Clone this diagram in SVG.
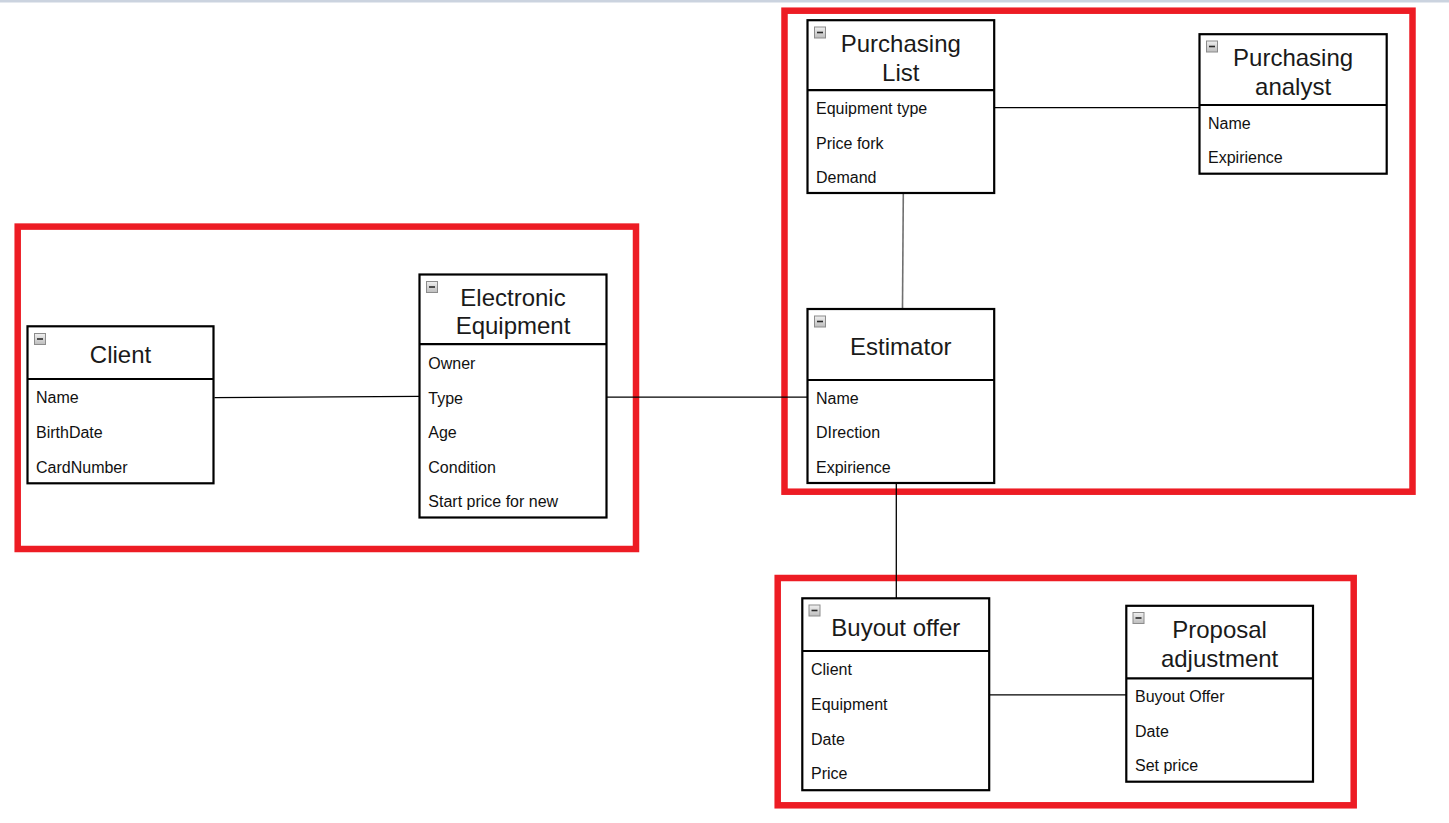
<svg xmlns="http://www.w3.org/2000/svg" width="1449" height="823" viewBox="0 0 1449 823">
<defs>
<linearGradient id="ig" x1="0" y1="0" x2="0" y2="1"><stop offset="0" stop-color="#f0f0f0"/><stop offset="1" stop-color="#bdbdbd"/></linearGradient>
<g id="icon"><rect x="0.5" y="0.5" width="11" height="11" fill="url(#ig)" stroke="#8c8c8c" stroke-width="1"/><line x1="3" y1="6" x2="9" y2="6" stroke="#2a2a2a" stroke-width="1.6"/></g>
</defs>
<style>
.frame{fill:none;stroke:#ed1c24;stroke-width:6.5}
.box{fill:#fff;stroke:#000;stroke-width:2.2}
.sep{stroke:#000;stroke-width:2.2}
.t{font-family:"Liberation Sans",Arial,sans-serif;font-size:24px;fill:#1a1a1a;text-anchor:middle}
.a{font-family:"Liberation Sans",Arial,sans-serif;font-size:16px;fill:#111}
.c{stroke:#000;stroke-width:1.3;fill:none}
</style>
<rect x="0" y="0" width="1449" height="823" fill="#fff"/>
<rect x="0" y="0" width="1449" height="2.5" fill="#cbd3df"/>
<g id="frames">
<rect class="frame" x="17.7" y="226.6" width="618.3" height="322.4"/>
<rect class="frame" x="784.5" y="10.7" width="628" height="481"/>
<rect class="frame" x="777.7" y="578" width="576" height="227.3"/>
</g>
<g id="connectors">
<line class="c" x1="214.5" y1="397.7" x2="419" y2="396.4"/>
<line class="c" x1="607" y1="397.2" x2="807" y2="397.2"/>
<line class="c" x1="995" y1="107.7" x2="1199" y2="107.7"/>
<line x1="903.3" y1="194" x2="902.5" y2="308" stroke="#707070" stroke-width="1.6"/>
<line class="c" x1="896.3" y1="484" x2="896.3" y2="598"/>
<line class="c" x1="989.5" y1="694.8" x2="1126" y2="694.8"/>
</g>
<g id="client">
<rect class="box" x="27.5" y="326.3" width="186" height="157"/>
<line class="sep" x1="27.5" y1="379" x2="213.5" y2="379"/>
<use href="#icon" x="34" y="333"/>
<text class="t" x="120.5" y="363.3">Client</text>
<text class="a" x="36" y="403.3">Name</text>
<text class="a" x="36" y="437.9">BirthDate</text>
<text class="a" x="36" y="472.5">CardNumber</text>
</g>
<g id="electronic-equipment">
<rect class="box" x="419.5" y="274.5" width="187" height="243"/>
<line class="sep" x1="419.5" y1="344.2" x2="606.5" y2="344.2"/>
<use href="#icon" x="426" y="281"/>
<text class="t" x="513" y="305.5">Electronic</text>
<text class="t" x="513" y="334.3">Equipment</text>
<text class="a" x="428.3" y="369.1">Owner</text>
<text class="a" x="428.3" y="403.6">Type</text>
<text class="a" x="428.3" y="438.2">Age</text>
<text class="a" x="428.3" y="472.7">Condition</text>
<text class="a" x="428.3" y="507.3">Start price for new</text>
</g>
<g id="purchasing-list">
<rect class="box" x="807.5" y="20.2" width="186.7" height="172.8"/>
<line class="sep" x1="807.5" y1="90.2" x2="994.2" y2="90.2"/>
<use href="#icon" x="814" y="26.5"/>
<text class="t" x="900.8" y="52.2">Purchasing</text>
<text class="t" x="900.8" y="80.7">List</text>
<text class="a" x="816" y="114">Equipment type</text>
<text class="a" x="816" y="148.6">Price fork</text>
<text class="a" x="816" y="183.2">Demand</text>
</g>
<g id="purchasing-analyst">
<rect class="box" x="1199.5" y="34.2" width="187.2" height="139.5"/>
<line class="sep" x1="1199.5" y1="105" x2="1386.7" y2="105"/>
<use href="#icon" x="1206" y="40.5"/>
<text class="t" x="1293.1" y="66.4">Purchasing</text>
<text class="t" x="1293.1" y="95">analyst</text>
<text class="a" x="1208" y="128.6">Name</text>
<text class="a" x="1208" y="163.2">Expirience</text>
</g>
<g id="estimator">
<rect class="box" x="807.5" y="309" width="186.7" height="174"/>
<line class="sep" x1="807.5" y1="380" x2="994.2" y2="380"/>
<use href="#icon" x="814" y="315.5"/>
<text class="t" x="900.8" y="355">Estimator</text>
<text class="a" x="816" y="403.6">Name</text>
<text class="a" x="816" y="438.2">DIrection</text>
<text class="a" x="816" y="472.7">Expirience</text>
</g>
<g id="buyout-offer">
<rect class="box" x="802.3" y="598.3" width="186.9" height="191.9"/>
<line class="sep" x1="802.3" y1="651" x2="989.2" y2="651"/>
<use href="#icon" x="808.5" y="604.5"/>
<text class="t" x="895.8" y="635.7">Buyout offer</text>
<text class="a" x="811" y="675.4">Client</text>
<text class="a" x="811" y="710">Equipment</text>
<text class="a" x="811" y="744.5">Date</text>
<text class="a" x="811" y="779">Price</text>
</g>
<g id="proposal-adjustment">
<rect class="box" x="1126.3" y="605.8" width="186.7" height="175.9"/>
<line class="sep" x1="1126.3" y1="678.3" x2="1313" y2="678.3"/>
<use href="#icon" x="1132.5" y="612"/>
<text class="t" x="1219.6" y="638.2">Proposal</text>
<text class="t" x="1219.6" y="666.8">adjustment</text>
<text class="a" x="1135" y="702">Buyout Offer</text>
<text class="a" x="1135" y="736.6">Date</text>
<text class="a" x="1135" y="771.2">Set price</text>
</g>
</svg>
